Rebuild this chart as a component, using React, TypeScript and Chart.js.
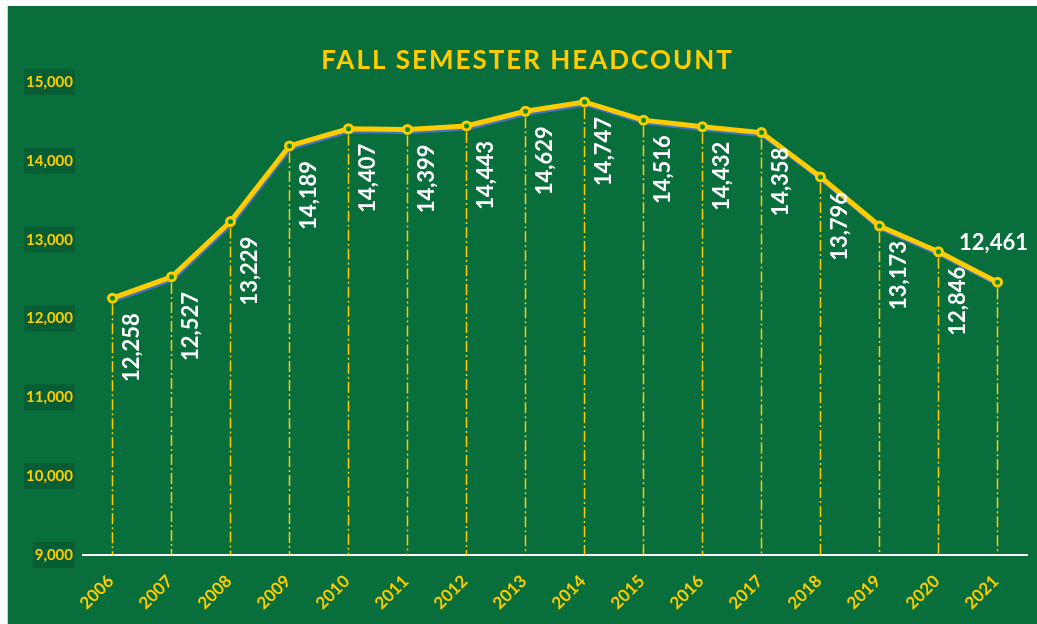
import React, { useEffect, useRef } from "react";
import { Chart, registerables } from "chart.js";

Chart.register(...registerables);

const title = "FALL SEMESTER HEADCOUNT";
const years = ["2006", "2007", "2008", "2009", "2010", "2011", "2012", "2013", "2014", "2015", "2016", "2017", "2018", "2019", "2020", "2021"];
const headcount = [12258, 12527, 13229, 14189, 14407, 14399, 14443, 14629, 14747, 14516, 14432, 14358, 13796, 13173, 12846, 12461];
const yMin = 9000;
const yMax = 15000;
const yStep = 1000;

const GREEN = "#086e3c";
const YELLOW = "#ffcc00";
const BLUE = "#4472c4";

const fmt = (v: number) => v.toLocaleString("en-US");

const effects = {
  id: "effects",
  beforeDraw(chart: any) {
    const ctx = chart.ctx;
    ctx.save();
    ctx.fillStyle = YELLOW;
    ctx.font = "700 26px Lato";
    (ctx as any).letterSpacing = "2px";
    ctx.textAlign = "center";
    ctx.textBaseline = "middle";
    ctx.fillText(title, chart.width / 2 + 5, 55);
    ctx.restore();
  },
  beforeDatasetsDraw(chart: any) {
    const ctx = chart.ctx;
    const meta = chart.getDatasetMeta(0);
    const bottom = chart.scales.y.getPixelForValue(yMin);
    ctx.save();
    ctx.strokeStyle = YELLOW;
    ctx.lineWidth = 1.5;
    ctx.setLineDash([11, 3, 2, 3]);
    meta.data.forEach((pt: any) => {
      ctx.beginPath();
      ctx.moveTo(pt.x, pt.y + 6);
      ctx.lineTo(pt.x, bottom);
      ctx.stroke();
    });
    ctx.restore();
  },
  beforeDatasetDraw(chart: any, args: any) {
    if (args.index === 1) {
      chart.ctx.save();
      chart.ctx.translate(1, 2.5);
    }
  },
  afterDatasetDraw(chart: any, args: any) {
    if (args.index === 1) chart.ctx.restore();
  },
  afterDatasetsDraw(chart: any) {
    const ctx = chart.ctx;
    const meta = chart.getDatasetMeta(0);
    ctx.save();
    ctx.fillStyle = "#ffffff";
    ctx.font = "700 22px Lato";
    meta.data.forEach((pt: any, i: number) => {
      const label = fmt(headcount[i]);
      if (i === headcount.length - 1) {
        ctx.textAlign = "center";
        ctx.textBaseline = "middle";
        ctx.fillText(label, pt.x - 4, pt.y - 39);
      } else {
        ctx.save();
        ctx.translate(pt.x + 19, pt.y + 15);
        ctx.rotate(-Math.PI / 2);
        ctx.textAlign = "right";
        ctx.textBaseline = "middle";
        ctx.fillText(label, 0, 0);
        ctx.restore();
      }
    });
    ctx.restore();
  },
  afterDraw(chart: any) {
    const ctx = chart.ctx;
    const xs = chart.scales.x;
    const base = chart.scales.y.getPixelForValue(yMin);
    ctx.save();
    ctx.fillStyle = YELLOW;
    ctx.font = "700 17px Lato";
    ctx.textAlign = "right";
    ctx.textBaseline = "alphabetic";
    years.forEach((yr, i) => {
      const x = xs.getPixelForTick(i);
      ctx.save();
      ctx.translate(x - 2, base + 23);
      ctx.rotate(-Math.PI / 4);
      ctx.fillText(yr, 0, 6);
      ctx.restore();
    });
    ctx.restore();
  },
};

export default function App() {
  const ref = useRef<HTMLCanvasElement>(null);
  useEffect(() => {
    if (!ref.current) return;
    const chart = new Chart(ref.current, {
      type: "line",
      data: {
        labels: years,
        datasets: [
          {
            label: "Headcount",
            data: headcount,
            borderColor: YELLOW,
            borderWidth: 5,
            tension: 0,
            pointRadius: 4,
            pointBorderWidth: 3,
            pointBorderColor: YELLOW,
            pointBackgroundColor: "#0b8f1c",
            pointHoverRadius: 4,
          },
          {
            label: "Shadow",
            data: headcount,
            borderColor: BLUE,
            borderWidth: 4,
            tension: 0,
            pointRadius: 0,
          },
        ],
      },
      options: {
        animation: false,
        responsive: false,
        maintainAspectRatio: false,
        events: [],
        layout: { padding: { left: 0, right: 10, top: 76, bottom: 0 } },
        plugins: {
          legend: { display: false },
          title: { display: false },
          tooltip: { enabled: false },
        },
        scales: {
          x: {
            offset: true,
            grid: { display: true, color: "transparent", drawTicks: false },
            border: { display: true, color: "#ffffff", width: 2 },
            ticks: { display: false, autoSkip: false },
            afterFit(scale: any) {
              scale.height = 69;
              scale.paddingLeft = 0;
              scale.paddingRight = 0;
            },
          },
          y: {
            min: yMin,
            max: yMax,
            grid: { display: false, drawTicks: false },
            border: { display: false },
            ticks: {
              stepSize: yStep,
              color: YELLOW,
              font: { family: "Lato", weight: "bold", size: 15 },
              padding: 10,
              callback: (v: any) => fmt(Number(v)),
              showLabelBackdrop: true,
              backdropColor: "#075e35",
              backdropPadding: { top: 4, bottom: 4, left: 2, right: 2 },
            } as any,
            afterFit(scale: any) {
              scale.width = 75;
              scale.paddingTop = 0;
              scale.paddingBottom = 0;
            },
          },
        },
      },
      plugins: [effects],
    });
    return () => chart.destroy();
  }, []);

  return (
    <div
      style={{
        position: "absolute",
        left: 7,
        top: 6,
        width: 1029,
        height: 618,
        background: GREEN,
        borderLeft: "1px solid #d0d0d0",
      }}
    >
      <canvas ref={ref} width={1029} height={618} style={{ display: "block" }} />
    </div>
  );
}
